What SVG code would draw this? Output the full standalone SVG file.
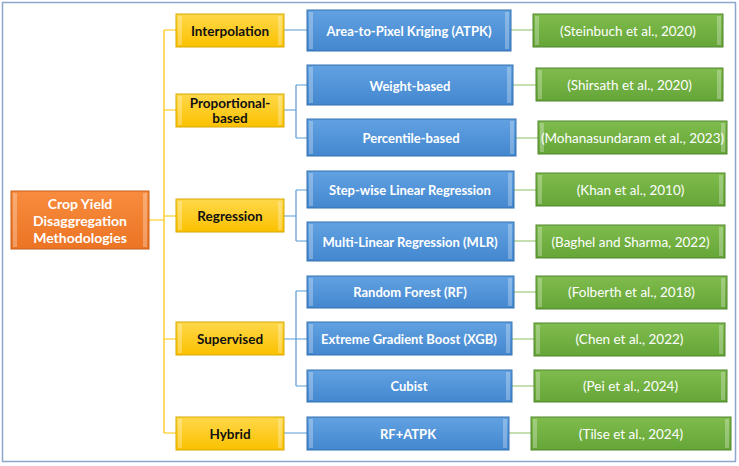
<svg xmlns="http://www.w3.org/2000/svg" width="739" height="466" viewBox="0 0 739 466">
<defs>
<linearGradient id="gy" x1="0" y1="0" x2="0" y2="1"><stop offset="0" stop-color="#FFD84A"/><stop offset="1" stop-color="#FBC100"/></linearGradient>
<linearGradient id="gb" x1="0" y1="0" x2="0" y2="1"><stop offset="0" stop-color="#62A2E2"/><stop offset="1" stop-color="#4387CF"/></linearGradient>
<linearGradient id="gg" x1="0" y1="0" x2="0" y2="1"><stop offset="0" stop-color="#80BC4E"/><stop offset="1" stop-color="#65A537"/></linearGradient>
<linearGradient id="go" x1="0" y1="0" x2="0" y2="1"><stop offset="0" stop-color="#F88C3E"/><stop offset="1" stop-color="#EC7424"/></linearGradient>
</defs>
<style>
.y{fill:url(#gy);stroke:#D7A900;stroke-width:1}
.b{fill:url(#gb);stroke:#3570B0;stroke-width:1}
.g{fill:url(#gg);stroke:#50862C;stroke-width:1}
.o{fill:url(#go);stroke:#C65E16;stroke-width:1}
.bv{fill:#ffffff;fill-opacity:0.28}
.bl{stroke:#ffffff;stroke-opacity:0.6;stroke-width:1}
text{font-family:Lato,"Liberation Sans",sans-serif;text-anchor:middle;dominant-baseline:central}
.ty{font-weight:bold;font-size:13.5px;fill:#111}
.tb{font-weight:bold;font-size:13px;fill:#fff}
.tg{font-size:13.5px;fill:#fff}
.to{font-weight:bold;font-size:14px;fill:#fff}
.cy{stroke:#FFC400;stroke-width:1.2;fill:none}
.cb{stroke:#5B9BD5;stroke-width:1.2;fill:none}
.cg{stroke:#8CC063;stroke-width:1.2;fill:none}
</style>
<rect x="2.5" y="2.5" width="733" height="459" fill="#fff" stroke="#8EA6CC" stroke-width="1.5"/>
<g id="connectors">
<path class="cy" d="M149 220H164M164 30V433M164 30H176M164 110H176M164 216H176M164 339H176M164 433H176"/>
<path class="cb" d="M284 30H307M284 110H296M296 85V138M296 85H307M296 138H307M284 216H296M296 190V241M296 190H307M296 241H307M284 339H307M296 291V386M296 291H307M296 386H307M284 433H307"/>
<path class="cg" d="M511 30H533M513 85H536M516 138H538M514 190H536M514 241H536M514 292H536M512 339H534M512 386H534M509 433H531"/>
</g>
<g id="root">
<rect class="o" x="11" y="191" width="138" height="58"/>
<rect class="bv" x="13" y="193" width="4" height="54"/><rect class="bv" x="143" y="193" width="4" height="54"/>
<text class="to" x="80" y="203">Crop Yield</text>
<text class="to" x="80" y="220">Disaggregation</text>
<text class="to" x="80" y="237">Methodologies</text>
</g>
<g id="interpolation"><rect class="y" x="176" y="14" width="108" height="33"/><rect class="bv" x="178" y="16" width="4" height="29"/><rect class="bv" x="278" y="16" width="4" height="29"/><text class="ty" x="230" y="30.5">Interpolation</text></g>
<g id="proportional"><rect class="y" x="176" y="94" width="108" height="33"/><rect class="bv" x="178" y="96" width="4" height="29"/><rect class="bv" x="278" y="96" width="4" height="29"/><text class="ty" x="230" y="102.5">Proportional-</text><text class="ty" x="230" y="118">based</text></g>
<g id="regression"><rect class="y" x="176" y="199" width="108" height="33"/><rect class="bv" x="178" y="201" width="4" height="29"/><rect class="bv" x="278" y="201" width="4" height="29"/><text class="ty" x="230" y="215.5">Regression</text></g>
<g id="supervised"><rect class="y" x="176" y="322" width="108" height="33"/><rect class="bv" x="178" y="324" width="4" height="29"/><rect class="bv" x="278" y="324" width="4" height="29"/><text class="ty" x="230" y="338.5">Supervised</text></g>
<g id="hybrid"><rect class="y" x="176" y="417" width="108" height="33"/><rect class="bv" x="178" y="419" width="4" height="29"/><rect class="bv" x="278" y="419" width="4" height="29"/><text class="ty" x="230" y="433.5">Hybrid</text></g>

<g id="atpk"><rect class="b" x="307" y="10" width="204" height="41"/><rect class="bv" x="309" y="12" width="4" height="37"/><rect class="bv" x="505" y="12" width="4" height="37"/><text class="tb" x="409" y="30.5">Area-to-Pixel Kriging (ATPK)</text></g>
<g id="weight"><rect class="b" x="307" y="65" width="206" height="40"/><rect class="bv" x="309" y="67" width="4" height="36"/><rect class="bv" x="507" y="67" width="4" height="36"/><text class="tb" x="410" y="85.5">Weight-based</text></g>
<g id="percentile"><rect class="b" x="307" y="119" width="209" height="37"/><rect class="bv" x="309" y="121" width="4" height="33"/><rect class="bv" x="510" y="121" width="4" height="33"/><text class="tb" x="411" y="138">Percentile-based</text></g>
<g id="stepwise"><rect class="b" x="307" y="171" width="207" height="37"/><rect class="bv" x="309" y="173" width="4" height="33"/><rect class="bv" x="508" y="173" width="4" height="33"/><text class="tb" x="410" y="189.5">Step-wise Linear Regression</text></g>
<g id="mlr"><rect class="b" x="307" y="222" width="207" height="39"/><rect class="bv" x="309" y="224" width="4" height="35"/><rect class="bv" x="508" y="224" width="4" height="35"/><text class="tb" x="410" y="241.5">Multi-Linear Regression (MLR)</text></g>
<g id="rf"><rect class="b" x="307" y="276" width="207" height="32"/><rect class="bv" x="309" y="278" width="4" height="28"/><rect class="bv" x="508" y="278" width="4" height="28"/><text class="tb" x="410" y="292">Random Forest (RF)</text></g>
<g id="xgb"><rect class="b" x="307" y="322" width="205" height="33"/><rect class="bv" x="309" y="324" width="4" height="29"/><rect class="bv" x="506" y="324" width="4" height="29"/><text class="tb" x="409" y="338.5">Extreme Gradient Boost (XGB)</text></g>
<g id="cubist"><rect class="b" x="307" y="370" width="205" height="32"/><rect class="bv" x="309" y="372" width="4" height="28"/><rect class="bv" x="506" y="372" width="4" height="28"/><text class="tb" x="409" y="386">Cubist</text></g>
<g id="rfatpk"><rect class="b" x="307" y="417" width="202" height="33"/><rect class="bv" x="309" y="419" width="4" height="29"/><rect class="bv" x="503" y="419" width="4" height="29"/><text class="tb" x="408" y="433.5">RF+ATPK</text></g>

<g id="steinbuch"><rect class="g" x="533" y="14" width="190" height="33"/><rect class="bv" x="535" y="16" width="4" height="29"/><rect class="bv" x="717" y="16" width="4" height="29"/><text class="tg" x="628" y="30.5">(Steinbuch et al., 2020)</text></g>
<g id="shirsath"><rect class="g" x="536" y="68" width="187" height="33"/><rect class="bv" x="538" y="70" width="4" height="29"/><rect class="bv" x="717" y="70" width="4" height="29"/><text class="tg" x="629.5" y="85">(Shirsath et al., 2020)</text></g>
<g id="mohanasundaram"><rect class="g" x="538" y="121" width="189" height="33"/><rect class="bv" x="540" y="123" width="4" height="29"/><rect class="bv" x="721" y="123" width="4" height="29"/><text class="tg" x="632.5" y="138">(Mohanasundaram et al., 2023)</text></g>
<g id="khan"><rect class="g" x="536" y="173" width="189" height="33"/><rect class="bv" x="538" y="175" width="4" height="29"/><rect class="bv" x="719" y="175" width="4" height="29"/><text class="tg" x="630.5" y="189.5">(Khan et al., 2010)</text></g>
<g id="baghel"><rect class="g" x="536" y="225" width="189" height="33"/><rect class="bv" x="538" y="227" width="4" height="29"/><rect class="bv" x="719" y="227" width="4" height="29"/><text class="tg" x="630.5" y="241.5">(Baghel and Sharma, 2022)</text></g>
<g id="folberth"><rect class="g" x="536" y="276" width="191" height="33"/><rect class="bv" x="538" y="278" width="4" height="29"/><rect class="bv" x="721" y="278" width="4" height="29"/><text class="tg" x="631.5" y="292">(Folberth et al., 2018)</text></g>
<g id="chen"><rect class="g" x="534" y="323" width="191" height="33"/><rect class="bv" x="536" y="325" width="4" height="29"/><rect class="bv" x="719" y="325" width="4" height="29"/><text class="tg" x="629.5" y="339">(Chen et al., 2022)</text></g>
<g id="pei"><rect class="g" x="534" y="370" width="193" height="32"/><rect class="bv" x="536" y="372" width="4" height="28"/><rect class="bv" x="721" y="372" width="4" height="28"/><text class="tg" x="630.5" y="386">(Pei et al., 2024)</text></g>
<g id="tilse"><rect class="g" x="531" y="417" width="200" height="33"/><rect class="bv" x="533" y="419" width="4" height="29"/><rect class="bv" x="725" y="419" width="4" height="29"/><text class="tg" x="631" y="433.5">(Tilse et al., 2024)</text></g>
</svg>
